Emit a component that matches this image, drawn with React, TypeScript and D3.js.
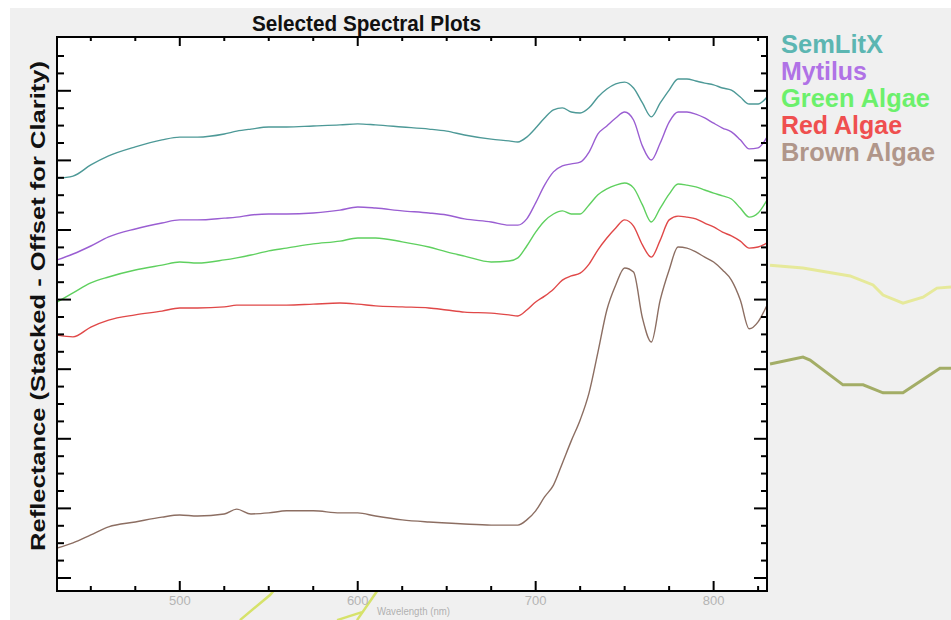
import React from "react";
import * as d3 from "d3";

const wavelengths = [431, 440, 450, 460, 475, 490, 500, 510, 525, 532, 540, 550, 560, 575, 590, 600, 610, 625, 640, 650, 660, 675, 685, 690, 695, 700, 705, 710, 715, 720, 725, 730, 735, 740, 745, 750, 755, 760, 765, 770, 775, 780, 785, 790, 795, 800, 805, 810, 815, 820, 825, 830];

const semLitX = [1.149, 1.155, 1.187, 1.213, 1.239, 1.259, 1.267, 1.267, 1.276, 1.284, 1.29, 1.296, 1.296, 1.299, 1.302, 1.305, 1.302, 1.296, 1.29, 1.284, 1.273, 1.261, 1.256, 1.253, 1.267, 1.293, 1.322, 1.345, 1.351, 1.339, 1.336, 1.351, 1.382, 1.405, 1.42, 1.425, 1.408, 1.365, 1.325, 1.365, 1.402, 1.434, 1.434, 1.428, 1.422, 1.417, 1.408, 1.402, 1.382, 1.362, 1.362, 1.382];

const mytilus = [0.914, 0.931, 0.954, 0.98, 1.003, 1.02, 1.029, 1.029, 1.034, 1.037, 1.043, 1.046, 1.046, 1.049, 1.057, 1.066, 1.063, 1.055, 1.049, 1.043, 1.032, 1.023, 1.014, 1.014, 1.032, 1.078, 1.129, 1.167, 1.184, 1.19, 1.195, 1.224, 1.276, 1.299, 1.322, 1.339, 1.316, 1.241, 1.201, 1.25, 1.31, 1.339, 1.339, 1.333, 1.322, 1.307, 1.293, 1.282, 1.259, 1.233, 1.236, 1.267];

const greenAlgae = [0.793, 0.819, 0.848, 0.865, 0.885, 0.899, 0.908, 0.905, 0.914, 0.92, 0.928, 0.94, 0.948, 0.96, 0.968, 0.977, 0.977, 0.966, 0.951, 0.937, 0.925, 0.908, 0.911, 0.92, 0.954, 0.994, 1.026, 1.046, 1.055, 1.046, 1.046, 1.072, 1.101, 1.118, 1.129, 1.135, 1.121, 1.072, 1.023, 1.063, 1.103, 1.132, 1.129, 1.124, 1.115, 1.106, 1.098, 1.089, 1.063, 1.037, 1.049, 1.086];

const redAlgae = [0.698, 0.693, 0.721, 0.741, 0.756, 0.767, 0.776, 0.776, 0.779, 0.784, 0.784, 0.784, 0.784, 0.787, 0.79, 0.787, 0.782, 0.779, 0.776, 0.77, 0.764, 0.761, 0.756, 0.753, 0.77, 0.793, 0.81, 0.83, 0.856, 0.868, 0.876, 0.902, 0.943, 0.977, 1.006, 1.029, 1.011, 0.957, 0.922, 0.971, 1.029, 1.04, 1.037, 1.032, 1.02, 1.009, 0.994, 0.983, 0.968, 0.948, 0.951, 0.963];

const brownAlgae = [0.086, 0.101, 0.124, 0.147, 0.161, 0.175, 0.181, 0.178, 0.184, 0.198, 0.184, 0.187, 0.193, 0.193, 0.187, 0.187, 0.178, 0.167, 0.161, 0.158, 0.155, 0.152, 0.152, 0.152, 0.167, 0.193, 0.233, 0.267, 0.33, 0.394, 0.454, 0.532, 0.649, 0.77, 0.842, 0.891, 0.879, 0.747, 0.678, 0.799, 0.885, 0.951, 0.948, 0.937, 0.922, 0.908, 0.885, 0.856, 0.799, 0.716, 0.736, 0.784];

const seriesNames = ["SemLitX", "Mytilus", "Green Algae", "Red Algae", "Brown Algae"];
const seriesValues = [semLitX, mytilus, greenAlgae, redAlgae, brownAlgae];
const lineColors = ["#4d9997", "#9a5ed2", "#5fd05f", "#e04848", "#8c6e62"];
const legendColors = ["#5cb6b2", "#b072e6", "#6cf06c", "#ef4f4f", "#b0968a"];
const legendWidths = [102, 86, 149, 121, 154];

// stray traces from a window behind the plot (data coordinates)
const strayYellowW = [831.7, 850.2, 876.7, 889.6, 895.2, 906.4, 917.7, 925.5, 933.4];
const strayYellowV = [0.899, 0.891, 0.868, 0.842, 0.813, 0.79, 0.807, 0.833, 0.836];
const strayOliveW = [831.7, 850.2, 854.2, 872.7, 884.0, 895.2, 906.4, 927.2, 933.4];
const strayOliveV = [0.615, 0.635, 0.626, 0.555, 0.555, 0.532, 0.532, 0.603, 0.603];
const strayLowAW = [533.8, 550.7, 554.0];
const strayLowAV = [-0.121, -0.049, -0.029];
const strayLowBW = [588.4, 602.4];
const strayLowBV = [-0.121, -0.098];
const strayLowCW = [599.6, 611.4, 613.0];
const strayLowCV = [-0.121, -0.034, -0.02];

const xTicks = d3.range(450, 826, 25);
const xMajor = [500, 600, 700, 800];
const yTicks = d3.range(0, 31).map((i) => +(i * 0.05).toFixed(2));

const W = 951;
const H = 620;
const plotL = 57, plotR = 767, plotT = 37, plotB = 591;

export default function App() {
  const x = d3.scaleLinear().domain([431, 830]).range([plotL, plotR]);
  const y = d3.scaleLinear().domain([-0.0374, 1.5546]).range([plotB, plotT]);

  const line = d3
    .line<[number, number]>()
    .x((d) => x(d[0]))
    .y((d) => y(d[1]))
    .curve(d3.curveMonotoneX);
  const straight = d3
    .line<[number, number]>()
    .x((d) => x(d[0]))
    .y((d) => y(d[1]));

  const zip = (a: number[], b: number[]) => a.map((v, i) => [v, b[i]] as [number, number]);

  return (
    <svg
      width={W}
      height={H}
      style={{ position: "absolute", left: 0, top: 0, background: "#fff" }}
      fontFamily="'Liberation Sans', Arial, sans-serif"
    >
      <defs>
        <clipPath id="plotclip">
          <rect x={plotL} y={plotT} width={plotR - plotL} height={plotB - plotT} />
        </clipPath>
      </defs>
      <rect x={10} y={8} width={W - 10} height={H - 8} fill="#f0f0f0" />

      {/* stray background traces */}
      <path d={straight(zip(strayYellowW, strayYellowV)) || ""} fill="none" stroke="#e6e99a" strokeWidth={3} />
      <path d={straight(zip(strayOliveW, strayOliveV)) || ""} fill="none" stroke="#a3ad66" strokeWidth={3} />
      <path d={straight(zip(strayLowAW, strayLowAV)) || ""} fill="none" stroke="#d6e26a" strokeWidth={2.5} />
      <path d={straight(zip(strayLowBW, strayLowBV)) || ""} fill="none" stroke="#d6e26a" strokeWidth={2.5} />
      <path d={straight(zip(strayLowCW, strayLowCV)) || ""} fill="none" stroke="#d6e26a" strokeWidth={2.5} />

      <rect x={plotL} y={plotT} width={plotR - plotL} height={plotB - plotT} fill="#ffffff" />

      <text x={252} y={31} fontSize={22} fontWeight="bold" textLength={229} lengthAdjust="spacingAndGlyphs" fill="#111">
        Selected Spectral Plots
      </text>

      <g clipPath="url(#plotclip)">
        {seriesValues.map((vals, i) => (
          <path
            key={seriesNames[i]}
            d={line(zip(wavelengths, vals)) || ""}
            fill="none"
            stroke={lineColors[i]}
            strokeWidth={1.4}
          />
        ))}
      </g>

      {/* x ticks */}
      {xTicks.map((t) => {
        const major = xMajor.includes(t);
        const px = x(t);
        return (
          <g key={"xt" + t}>
            <line x1={px} x2={px} y1={plotB} y2={plotB - (major ? 10 : 5)} stroke="#000" strokeWidth={2} />
            <line x1={px} x2={px} y1={plotT} y2={plotT + (major ? 9 : 4)} stroke="#000" strokeWidth={2} />
          </g>
        );
      })}
      {xMajor.map((t) => (
        <text key={"xl" + t} x={x(t)} y={605} fontSize={13} textAnchor="middle" fill="#b4b4b4">
          {t}
        </text>
      ))}
      <text x={377} y={615} fontSize={10} fill="#b0b0b0" textLength={73} lengthAdjust="spacingAndGlyphs">
        Wavelength (nm)
      </text>

      {/* y ticks */}
      {yTicks.map((t, i) => {
        const major = i % 4 === 0;
        const py = y(t);
        return (
          <g key={"yt" + i}>
            <line x1={plotL} x2={plotL + (major ? 14 : 7)} y1={py} y2={py} stroke="#000" strokeWidth={2} />
            <line x1={plotR} x2={plotR - (major ? 13 : 6)} y1={py} y2={py} stroke="#000" strokeWidth={2} />
          </g>
        );
      })}

      <rect x={plotL} y={plotT} width={plotR - plotL} height={plotB - plotT} fill="none" stroke="#000" strokeWidth={2} />

      <text
        transform={`translate(45, 306) rotate(-90)`}
        fontSize={21}
        fontWeight="bold"
        textAnchor="middle"
        textLength={490}
        lengthAdjust="spacingAndGlyphs"
        fill="#111"
      >
        Reflectance (Stacked - Offset for Clarity)
      </text>

      {seriesNames.map((name, i) => (
        <text
          key={"lg" + name}
          x={781}
          y={53 + i * 27}
          fontSize={25}
          fontWeight="bold"
          fill={legendColors[i]}
          textLength={legendWidths[i]}
          lengthAdjust="spacingAndGlyphs"
        >
          {name}
        </text>
      ))}
    </svg>
  );
}
